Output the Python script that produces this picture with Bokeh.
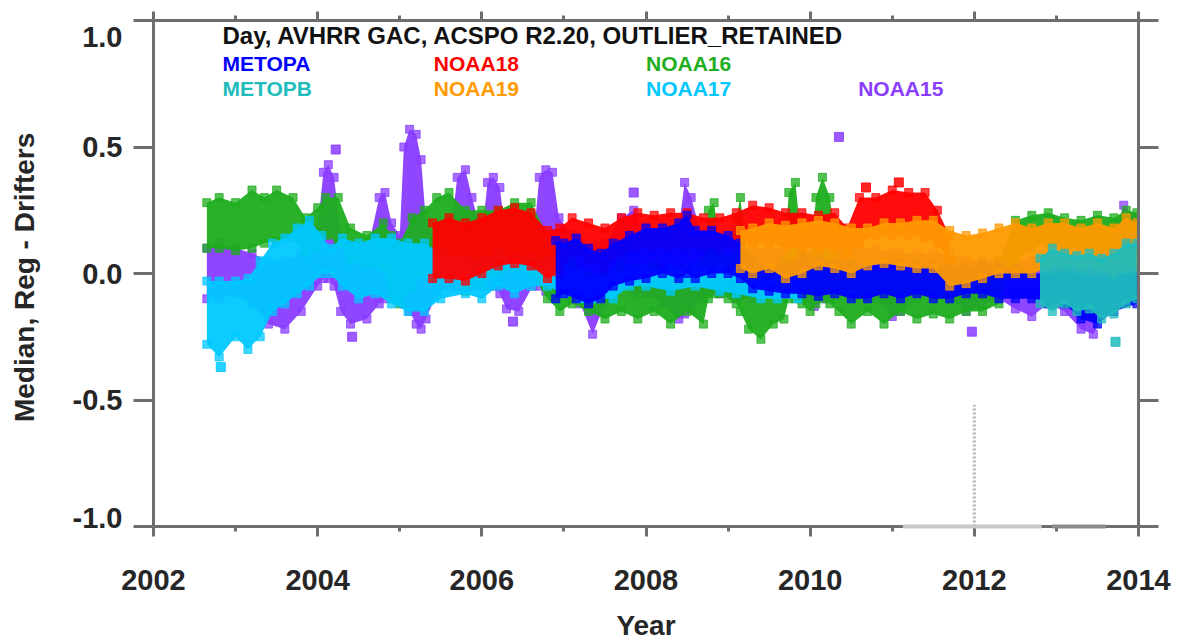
from bokeh.plotting import figure
from bokeh.models import LinearAxis, Range1d, FixedTicker, PrintfTickFormatter, CustomJSTickFormatter
from bokeh.core.properties import value
from bokeh.embed import file_html
from bokeh.resources import INLINE

FONT = "Liberation Sans"

# ---------------- data ----------------
TITLE = "Day, AVHRR GAC, ACSPO R2.20, OUTLIER_RETAINED"
X_TICKS = [2002, 2004, 2006, 2008, 2010, 2012, 2014]
X_MINOR = [2003, 2005, 2007, 2009, 2011, 2013]
Y_TICKS = [-1.0, -0.5, 0.0, 0.5, 1.0]

# NOAA15 (purple): time, lower and upper edge of the cloud
N15_T = [2002.65, 2002.8, 2003.0, 2003.2, 2003.4, 2003.6, 2003.8, 2004.0, 2004.07, 2004.13,
         2004.2, 2004.28, 2004.4, 2004.6, 2004.75, 2004.82, 2004.9, 2005.0, 2005.05, 2005.12,
         2005.2, 2005.26, 2005.32, 2005.45, 2005.62, 2005.7, 2005.8, 2005.88, 2006.0, 2006.07,
         2006.14, 2006.22, 2006.3, 2006.45, 2006.62, 2006.7, 2006.78, 2006.86, 2006.94, 2007.1,
         2007.2, 2007.35, 2007.5, 2007.7, 2007.85, 2008.0, 2008.2, 2008.4, 2008.47, 2008.55,
         2008.7, 2008.9, 2009.1, 2009.3, 2009.5, 2009.7, 2009.9, 2010.05, 2010.2, 2010.4,
         2010.6, 2010.8, 2011.0, 2011.1, 2011.3, 2011.5, 2011.7, 2011.9, 2012.1, 2012.3,
         2012.5, 2012.7, 2012.9, 2013.1, 2013.3, 2013.45, 2013.6, 2013.75, 2013.82, 2013.95]
N15_LO = [-0.10, -0.10, -0.08, -0.12, -0.20, -0.22, -0.15, -0.05, -0.02, -0.02,
          -0.05, -0.15, -0.20, -0.18, -0.12, -0.10, -0.08, -0.10, -0.12, -0.15,
          -0.20, -0.22, -0.18, -0.08, -0.05, -0.05, -0.05, -0.05, -0.05, -0.05,
          -0.05, -0.08, -0.14, -0.15, -0.05, -0.05, -0.07, -0.07, -0.05, -0.08,
          -0.12, -0.24, -0.12, -0.05, -0.08, -0.08, -0.12, -0.18, -0.16, -0.14,
          -0.10, -0.08, -0.10, -0.10, -0.06, -0.08, -0.10, -0.13, -0.10, -0.05,
          -0.08, -0.10, -0.17, -0.15, -0.10, -0.08, -0.10, -0.15, -0.12, -0.10,
          -0.14, -0.17, -0.12, -0.15, -0.22, -0.24, -0.15, -0.10, -0.10, -0.08]
N15_HI = [0.10, 0.12, 0.10, 0.08, 0.05, 0.05, 0.08, 0.18, 0.40, 0.43,
          0.38, 0.15, 0.05, 0.08, 0.30, 0.32, 0.20, 0.15, 0.50, 0.57,
          0.55, 0.45, 0.20, 0.12, 0.15, 0.38, 0.41, 0.30, 0.15, 0.36,
          0.38, 0.34, 0.12, 0.10, 0.10, 0.38, 0.41, 0.40, 0.22, 0.15,
          0.12, 0.10, 0.12, 0.22, 0.25, 0.15, 0.12, 0.18, 0.36, 0.30,
          0.12, 0.10, 0.10, 0.10, 0.10, 0.10, 0.10, 0.08, 0.10, 0.10,
          0.10, 0.10, 0.08, 0.08, 0.08, 0.08, 0.08, 0.05, 0.05, 0.05,
          0.05, 0.05, 0.05, 0.05, 0.05, 0.05, 0.08, 0.20, 0.27, 0.22]
N15_OUT_T = [2004.22, 2004.42, 2006.38, 2007.85, 2010.35, 2011.97]
N15_OUT_V = [0.49, -0.25, -0.19, 0.32, 0.54, -0.23]

# NOAA16 (green)
N16_T = [2002.65, 2002.8, 2003.0, 2003.2, 2003.35, 2003.5, 2003.7, 2003.85, 2004.0, 2004.1,
         2004.25, 2004.4, 2004.6, 2004.8, 2004.9, 2005.0, 2005.15, 2005.3, 2005.45, 2005.6,
         2005.8, 2006.0, 2006.2, 2006.4, 2006.6, 2006.8, 2006.95, 2007.1, 2007.3, 2007.5,
         2007.7, 2007.9, 2008.1, 2008.3, 2008.5, 2008.7, 2008.76, 2008.83, 2008.9, 2009.0,
         2009.1, 2009.15, 2009.25, 2009.4, 2009.55, 2009.68, 2009.74, 2009.82, 2009.9, 2010.0,
         2010.07, 2010.15, 2010.24, 2010.35, 2010.5, 2010.7, 2010.9, 2011.1, 2011.3, 2011.5,
         2011.7, 2011.9, 2012.1, 2012.3, 2012.5, 2012.7, 2012.9, 2013.1, 2013.3, 2013.5,
         2013.7, 2013.85, 2013.98]
N16_LO = [0.10, 0.10, 0.09, 0.10, 0.12, 0.13, 0.14, 0.08, 0.10, 0.15,
          0.12, 0.05, 0.04, 0.02, -0.10, -0.12, -0.05, 0.00, 0.02, 0.00,
          -0.07, -0.05, 0.00, 0.02, 0.00, -0.10, -0.15, -0.12, -0.15, -0.18,
          -0.15, -0.18, -0.15, -0.20, -0.15, -0.20, -0.10, -0.08, -0.08, -0.10,
          -0.12, -0.15, -0.22, -0.26, -0.20, -0.18, -0.10, -0.10, -0.12, -0.15,
          -0.12, -0.10, -0.12, -0.15, -0.20, -0.15, -0.20, -0.15, -0.18, -0.16,
          -0.18, -0.15, -0.15, -0.12, 0.05, 0.10, 0.12, 0.10, 0.10, 0.08,
          0.10, 0.10, 0.10]
N16_HI = [0.28, 0.30, 0.28, 0.33, 0.30, 0.33, 0.30, 0.22, 0.26, 0.30,
          0.30, 0.18, 0.15, 0.20, 0.15, 0.12, 0.22, 0.25, 0.30, 0.32,
          0.25, 0.25, 0.25, 0.28, 0.28, 0.15, 0.10, 0.05, 0.00, 0.00,
          0.05, 0.02, 0.04, 0.00, 0.02, 0.05, 0.25, 0.28, 0.10, 0.05,
          0.22, 0.30, 0.00, -0.02, 0.00, 0.05, 0.32, 0.36, 0.10, 0.00,
          0.30, 0.38, 0.30, 0.02, 0.00, 0.02, 0.00, 0.02, 0.00, 0.00,
          0.00, -0.02, 0.00, 0.05, 0.21, 0.23, 0.24, 0.22, 0.21, 0.23,
          0.22, 0.25, 0.24]

# NOAA17 (sky blue)
N17_T = [2002.65, 2002.8, 2003.0, 2003.15, 2003.3, 2003.45, 2003.6, 2003.75, 2003.9, 2004.05,
         2004.15, 2004.3, 2004.5, 2004.7, 2004.9, 2005.1, 2005.3, 2005.5, 2005.8, 2006.0,
         2006.2, 2006.4, 2006.6, 2006.8, 2007.0, 2007.2, 2007.4, 2007.6, 2007.8, 2008.0,
         2008.3, 2008.6, 2008.9, 2009.1, 2009.4, 2009.6, 2009.85]
N17_LO = [-0.28, -0.33, -0.25, -0.30, -0.25, -0.15, -0.12, -0.08, -0.05, 0.00,
          0.00, -0.05, -0.10, -0.08, -0.12, -0.15, -0.15, -0.10, -0.08, -0.10,
          -0.05, -0.08, -0.05, -0.05, -0.08, -0.10, -0.10, -0.10, -0.05, -0.05,
          -0.07, -0.05, -0.07, -0.08, -0.10, -0.10, -0.10]
N17_HI = [-0.03, -0.03, -0.03, -0.02, 0.05, 0.12, 0.14, 0.18, 0.21, 0.15,
          0.10, 0.14, 0.12, 0.14, 0.14, 0.12, 0.12, 0.08, 0.06, 0.05,
          0.08, 0.06, 0.06, 0.05, 0.03, 0.00, -0.02, 0.00, 0.02, 0.02,
          0.02, 0.03, 0.02, 0.00, -0.02, -0.02, -0.02]
N17_OUT_T = [2002.82]
N17_OUT_V = [-0.37]

# NOAA18 (red)
N18_T = [2005.4, 2005.6, 2005.8, 2006.0, 2006.2, 2006.4, 2006.6, 2006.8, 2006.95, 2007.1,
         2007.3, 2007.5, 2007.7, 2007.9, 2008.1, 2008.3, 2008.5, 2008.7, 2008.9, 2009.1,
         2009.3, 2009.5, 2009.7, 2009.9, 2010.1, 2010.3, 2010.45, 2010.6, 2010.8, 2011.0,
         2011.2, 2011.4, 2011.55, 2011.7]
N18_LO = [-0.02, -0.02, -0.03, 0.00, 0.03, 0.04, 0.03, -0.02, 0.00, 0.08,
          0.05, 0.02, 0.08, 0.10, 0.10, 0.10, 0.10, 0.10, 0.10, 0.10,
          0.12, 0.12, 0.10, 0.10, 0.10, 0.10, 0.08, 0.12, 0.15, 0.15,
          0.15, 0.14, 0.12, 0.05]
N18_HI = [0.20, 0.22, 0.20, 0.22, 0.25, 0.26, 0.24, 0.17, 0.18, 0.22,
          0.20, 0.18, 0.22, 0.24, 0.23, 0.24, 0.24, 0.22, 0.22, 0.24,
          0.27, 0.26, 0.24, 0.24, 0.23, 0.24, 0.18, 0.30, 0.30, 0.33,
          0.32, 0.32, 0.25, 0.15]
N18_OUT_T = [2010.68, 2011.08]
N18_OUT_V = [0.34, 0.36]

# METOPA (blue)
MA_T = [2006.9, 2007.0, 2007.15, 2007.3, 2007.45, 2007.6, 2007.8, 2008.0, 2008.2, 2008.4,
        2008.5, 2008.6, 2008.8, 2009.0, 2009.15, 2009.3, 2009.5, 2009.7, 2009.9, 2010.1,
        2010.3, 2010.5, 2010.7, 2010.9, 2011.1, 2011.3, 2011.5, 2011.7, 2011.9, 2012.1,
        2012.3, 2012.5, 2012.7, 2012.9, 2013.1, 2013.3, 2013.5, 2013.7, 2013.98]
MA_LO = [-0.10, -0.08, -0.10, -0.12, -0.10, -0.05, -0.03, -0.02, 0.00, -0.02,
         0.00, -0.02, 0.00, 0.00, -0.02, -0.06, -0.07, -0.08, -0.08, -0.09,
         -0.08, -0.10, -0.10, -0.08, -0.10, -0.08, -0.10, -0.10, -0.08, -0.08,
         -0.10, -0.10, -0.10, -0.12, -0.12, -0.18, -0.20, -0.15, -0.12]
MA_HI = [0.13, 0.12, 0.14, 0.10, 0.08, 0.12, 0.15, 0.18, 0.18, 0.20,
         0.23, 0.17, 0.17, 0.15, 0.12, 0.05, 0.02, 0.04, 0.07, 0.06,
         0.04, 0.04, 0.03, 0.04, 0.04, 0.03, 0.03, 0.02, 0.02, 0.03,
         0.03, 0.02, 0.00, 0.00, 0.00, 0.00, -0.02, 0.00, 0.00]

# NOAA19 (orange)
N19_T = [2009.15, 2009.3, 2009.5, 2009.7, 2009.9, 2010.1, 2010.3, 2010.5, 2010.7, 2010.9,
         2011.1, 2011.3, 2011.5, 2011.7, 2011.9, 2012.1, 2012.3, 2012.5, 2012.7, 2012.9,
         2013.1, 2013.3, 2013.5, 2013.7, 2013.85, 2013.98]
N19_LO = [0.02, 0.00, 0.02, -0.02, 0.00, 0.03, 0.02, 0.00, 0.03, 0.04,
          0.03, 0.02, 0.02, -0.05, -0.04, -0.02, 0.00, 0.00, 0.00, 0.02,
          0.03, 0.02, 0.02, 0.00, 0.02, 0.02]
N19_HI = [0.17, 0.18, 0.20, 0.19, 0.20, 0.21, 0.20, 0.18, 0.18, 0.20,
          0.20, 0.21, 0.21, 0.17, 0.15, 0.16, 0.18, 0.20, 0.18, 0.20,
          0.20, 0.18, 0.20, 0.18, 0.22, 0.20]

# METOPB (teal)
MB_T = [2012.8, 2012.95, 2013.1, 2013.25, 2013.4, 2013.55, 2013.7, 2013.85, 2013.98]
MB_LO = [-0.12, -0.15, -0.12, -0.15, -0.14, -0.18, -0.16, -0.12, -0.10]
MB_HI = [0.06, 0.10, 0.08, 0.07, 0.08, 0.06, 0.08, 0.12, 0.12]
MB_OUT_T = [2013.72]
MB_OUT_V = [-0.27]

# flagged values sitting at -1.0, and a dotted column at 2012
FLAG_X0 = [2011.13, 2012.95]
FLAG_X1 = [2012.82, 2013.60]
FLAG_V = [-1.0, -1.0]
DOT_X = [2012.0]
DOT_V0 = [-1.0]
DOT_V1 = [-0.52]

COLORS = {"METOPA": "#0000ff", "NOAA18": "#ff0000", "NOAA16": "#1eae1e",
          "METOPB": "#1fbcbc", "NOAA19": "#ff9a00", "NOAA17": "#00c8ff",
          "NOAA15": "#8a3cff"}
LEGEND_ROW1 = ["METOPA", "NOAA18", "NOAA16"]
LEGEND_ROW2 = ["METOPB", "NOAA19", "NOAA17", "NOAA15"]

# ---------------- figure ----------------
p = figure(width=1180, height=643, output_backend="svg", toolbar_location=None,
           x_range=Range1d(2002, 2014), y_range=Range1d(-1.0, 1.0),
           x_axis_location=None, y_axis_location=None,
           min_border_left=153, min_border_right=42, min_border_top=20, min_border_bottom=117)
p.outline_line_color = None
p.xgrid.visible = False
p.ygrid.visible = False
p.background_fill_color = "white"

AX = "#6e6e6e"
TXT = "#262626"

def style(ax, major_out, minor_out, labels=True):
    ax.axis_line_color = AX
    ax.axis_line_width = 3
    ax.major_tick_line_color = AX
    ax.major_tick_line_width = 3
    ax.minor_tick_line_color = AX
    ax.minor_tick_line_width = 3
    ax.major_tick_in = 0
    ax.major_tick_out = major_out
    ax.minor_tick_in = 0
    ax.minor_tick_out = minor_out
    ax.major_label_text_font = FONT
    ax.major_label_text_font_style = "bold"
    ax.major_label_text_color = TXT
    ax.major_label_text_font_size = "29px" if labels else "0px"
    ax.axis_label_text_font = FONT
    ax.axis_label_text_font_style = "bold"
    ax.axis_label_text_color = TXT
    ax.axis_label_text_font_size = "28px"

bottom = LinearAxis(ticker=FixedTicker(ticks=X_TICKS, minor_ticks=X_MINOR),
                    formatter=PrintfTickFormatter(format="%d"), axis_label="Year")
style(bottom, 10, 5)
bottom.major_label_standoff = 33
bottom.axis_label_standoff = 17
p.add_layout(bottom, "below")

top = LinearAxis(ticker=FixedTicker(ticks=X_TICKS, minor_ticks=X_MINOR),
                 formatter=CustomJSTickFormatter(code="return ''"))
style(top, 9, 5, labels=False)
top.major_label_standoff = 0
p.add_layout(top, "above")

# left: inner axis carries the line and the tick marks ...
left_ticks = LinearAxis(ticker=FixedTicker(ticks=Y_TICKS, minor_ticks=[]),
                        formatter=CustomJSTickFormatter(code="return ''"))
style(left_ticks, 20, 0, labels=False)
left_ticks.major_label_standoff = 0
p.add_layout(left_ticks, "left")

# ... outer axis carries the numbers; the end labels sit inside the range as in the reference
label_pos = [0.933, 0.5, 0.0, -0.5, -0.968]
left_labels = LinearAxis(ticker=FixedTicker(ticks=label_pos, minor_ticks=[]),
                         formatter=CustomJSTickFormatter(
                             code="if (tick > 0.9) {return '1.0'} else if (tick < -0.9) {return '-1.0'} else {return tick.toFixed(1)}"),
                         axis_label="Median,  Reg - Drifters")
style(left_labels, 0, 0)
left_labels.axis_line_color = None
left_labels.major_tick_line_color = None
left_labels.major_label_standoff = 11
left_labels.axis_label_standoff = 30
p.add_layout(left_labels, "left")

right = LinearAxis(ticker=FixedTicker(ticks=Y_TICKS, minor_ticks=[]),
                   formatter=CustomJSTickFormatter(code="return ''"))
style(right, 20, 0, labels=False)
right.major_label_standoff = 0
p.add_layout(right, "right")

# ---------------- clouds ----------------
series = [
    ("NOAA15", N15_T, N15_LO, N15_HI),
    ("NOAA16", N16_T, N16_LO, N16_HI),
    ("NOAA17", N17_T, N17_LO, N17_HI),
    ("NOAA18", N18_T, N18_LO, N18_HI),
    ("METOPA", MA_T, MA_LO, MA_HI),
    ("NOAA19", N19_T, N19_LO, N19_HI),
    ("METOPB", MB_T, MB_LO, MB_HI),
]
outliers = {"NOAA15": (N15_OUT_T, N15_OUT_V), "NOAA17": (N17_OUT_T, N17_OUT_V),
            "NOAA18": (N18_OUT_T, N18_OUT_V), "METOPB": (MB_OUT_T, MB_OUT_V)}

for name, t, lo, hi in series:
    c = COLORS[name]
    p.varea(x=t, y1=lo, y2=hi, fill_color=c, fill_alpha=0.95)
    p.scatter(x=list(t) + list(t), y=list(lo) + list(hi), size=8, marker="square",
              fill_color=c, line_color=c, fill_alpha=0.75, line_alpha=0.75)
    if name in outliers:
        ot, ov = outliers[name]
        p.scatter(x=ot, y=ov, size=9, marker="square", fill_color=c, line_color=c, alpha=0.85)

p.segment(x0=FLAG_X0, y0=FLAG_V, x1=FLAG_X1, y1=FLAG_V, line_color=["#c8c8c8", "#8c8c8c"],
          line_width=4, level="overlay")
p.segment(x0=DOT_X, y0=DOT_V0, x1=DOT_X, y1=DOT_V1, line_color="#b4b4b4",
          line_width=3, line_dash="2 2")

# ---------------- title and colour legend ----------------
p.text(x=[2002.84], y=[0.941], text=[TITLE], text_color="#111111",
       text_font=value(FONT), text_font_style="bold", text_font_size="24px",
       text_align="left", text_baseline="middle")
col_x = [2002.84, 2005.415, 2008.0, 2010.585]
p.text(x=col_x[:len(LEGEND_ROW1)], y=[0.830] * len(LEGEND_ROW1), text=LEGEND_ROW1,
       text_color=[COLORS[n] for n in LEGEND_ROW1],
       text_font=value(FONT), text_font_style="bold", text_font_size="21px",
       text_align="left", text_baseline="middle")
p.text(x=col_x[:len(LEGEND_ROW2)], y=[0.731] * len(LEGEND_ROW2), text=LEGEND_ROW2,
       text_color=[COLORS[n] for n in LEGEND_ROW2],
       text_font=value(FONT), text_font_style="bold", text_font_size="21px",
       text_align="left", text_baseline="middle")

open("out.html", "w").write(file_html(p, INLINE))
